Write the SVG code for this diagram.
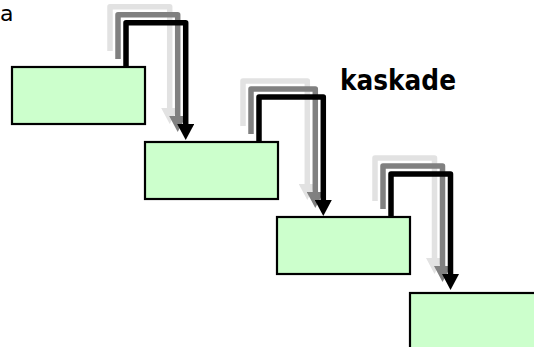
<svg xmlns="http://www.w3.org/2000/svg" width="534" height="347" viewBox="0 0 534 347">
<style>
.box{fill:#ccffcc;stroke:#000;stroke-width:2.2}
.a{fill:none;stroke-width:5.5;stroke-linejoin:round}
.k{stroke:#000}
.g{stroke:#808080}
.l{stroke:#e2e2e2}
.lbl{font-family:"DejaVu Sans",Verdana,sans-serif;fill:#000}
</style>
<defs>
<marker id="hk" markerUnits="userSpaceOnUse" viewBox="0 0 16 17" refX="0" refY="8.5" markerWidth="16" markerHeight="17" orient="auto"><path d="M0,0 L16,8.5 L0,17 z" fill="#000"/></marker>
<marker id="hg" markerUnits="userSpaceOnUse" viewBox="0 0 16 17" refX="0" refY="8.5" markerWidth="16" markerHeight="17" orient="auto"><path d="M0,0 L16,8.5 L0,17 z" fill="#808080"/></marker>
<marker id="hl" markerUnits="userSpaceOnUse" viewBox="0 0 16 17" refX="0" refY="8.5" markerWidth="16" markerHeight="17" orient="auto"><path d="M0,0 L16,8.5 L0,17 z" fill="#e2e2e2"/></marker>
</defs>
<rect width="534" height="347" fill="#fff"/>
<text class="lbl" x="0" y="21" font-size="22">a</text>
<text class="lbl" x="340" y="90" font-size="28" font-weight="bold" textLength="116" lengthAdjust="spacingAndGlyphs">kaskade</text>
<g id="n1"><rect class="box" x="12" y="67" width="133" height="57"/></g>
<g id="n2"><rect class="box" x="145" y="142" width="133" height="57"/></g>
<g id="n3"><rect class="box" x="277" y="217" width="133" height="57"/></g>
<g id="n4"><rect class="box" x="410" y="293" width="133" height="57"/></g>
<g id="connectors">
<path class="a l" d="M110 51 V6.7 H169.7 V108" marker-end="url(#hl)"/>
<path class="a g" d="M118 59 V14.7 H177.7 V116" marker-end="url(#hg)"/>
<path class="a k" d="M126 67 V22.7 H185.7 V124" marker-end="url(#hk)"/>
<path class="a l" d="M243 126 V81 H307.3 V184" marker-end="url(#hl)"/>
<path class="a g" d="M251 134 V89 H315.3 V192" marker-end="url(#hg)"/>
<path class="a k" d="M259 142 V97 H323.3 V200" marker-end="url(#hk)"/>
<path class="a l" d="M375 201 V158 H434.5 V258" marker-end="url(#hl)"/>
<path class="a g" d="M383 209 V166 H442.5 V266" marker-end="url(#hg)"/>
<path class="a k" d="M391 217 V174 H450.5 V274" marker-end="url(#hk)"/>
</g>
</svg>
